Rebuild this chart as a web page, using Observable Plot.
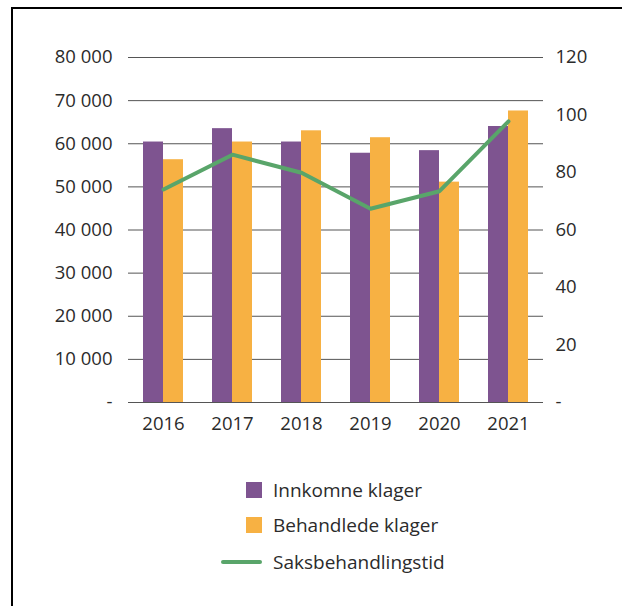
<!DOCTYPE html>
<html>
<head>
<meta charset="utf-8">
<script src="https://cdn.jsdelivr.net/npm/d3@7"></script>
<script src="https://cdn.jsdelivr.net/npm/@observablehq/plot@0.6"></script>
<style>
  html, body { margin: 0; padding: 0; background: #fff; }
  body { width: 622px; height: 606px; position: relative; overflow: hidden; font-family: "Open Sans", sans-serif; }
  #frame { position: absolute; left: 11px; top: 7px; width: 700px; height: 700px; border-top: 2px solid #000; border-left: 2px solid #000; }
  #chart { position: absolute; left: 0; top: 0; }
  .legend { position: absolute; left: 0; top: 0; font-size: 19px; color: #2b2b2b; }
  .item { position: absolute; left: 221px; height: 20px; display: flex; align-items: center; white-space: nowrap; }
  .sw { width: 41px; display: flex; justify-content: flex-end; margin-right: 11px; }
  .sq { width: 16px; height: 16px; }
  .ln { width: 41px; height: 4px; border-radius: 2px; }
</style>
</head>
<body>
<div id="frame"></div>
<div id="chart"></div>
<div class="legend" id="legend"></div>
<script>
const years = ["2016", "2017", "2018", "2019", "2020", "2021"];
const innkomne = [60400, 63500, 60400, 57800, 58400, 64000];
const behandlede = [56300, 60400, 63000, 61400, 51100, 67600];
const saksbehandlingstid = [74.1, 86.2, 79.9, 67.4, 73.5, 97.8];
const leftTicks = [0, 10000, 20000, 30000, 40000, 50000, 60000, 70000, 80000];
const rightTicks = [0, 20, 40, 60, 80, 100, 120];
const seriesNames = ["Innkomne klager", "Behandlede klager", "Saksbehandlingstid"];
const colors = ["#7e5490", "#f7b143", "#59a56a"];

const k = 80000 / 120;
const fmt = d => d === 0 ? "-" : d3.format(",")(d).replace(/,/g, " ");

const barsA = years.map((y, i) => ({year: y, value: innkomne[i]}));
const barsB = years.map((y, i) => ({year: y, value: behandlede[i]}));
const lineData = years.map((y, i) => ({year: y, value: saksbehandlingstid[i] * k}));

const chart = Plot.plot({
  width: 622,
  height: 440,
  marginLeft: 128,
  marginRight: 79,
  marginTop: 57,
  marginBottom: 38,
  style: {fontFamily: "'Open Sans', sans-serif", fontSize: "18.5px", color: "#2b2b2b", background: "transparent"},
  x: {domain: years, paddingInner: 0.42, paddingOuter: 0.21, axis: null},
  y: {domain: [0, 80000], axis: null},
  marks: [
    Plot.ruleY(leftTicks, {stroke: "#555", strokeWidth: 1}),
    Plot.barY(barsA, {x: "year", y: "value", fill: colors[0], insetRight: 20}),
    Plot.barY(barsB, {x: "year", y: "value", fill: colors[1], insetLeft: 20}),
    Plot.line(lineData, {x: "year", y: "value", stroke: colors[2], strokeWidth: 4, strokeLinejoin: "round"}),
    Plot.axisX({tickSize: 0, tickPadding: 14, label: null}),
    Plot.axisY(leftTicks, {anchor: "left", tickSize: 0, tickPadding: 16, tickFormat: fmt, label: null}),
    Plot.axisY(rightTicks.map(v => v * k), {anchor: "right", tickSize: 0, tickPadding: 12, tickFormat: d => fmt(Math.round(d / k)), label: null})
  ]
});
document.getElementById("chart").appendChild(chart);

const legend = document.getElementById("legend");
const tops = [480, 515, 552];
seriesNames.forEach((name, i) => {
  const item = document.createElement("div");
  item.className = "item";
  item.style.top = tops[i] + "px";
  const sw = document.createElement("div");
  sw.className = "sw";
  const mk = document.createElement("div");
  mk.className = i < 2 ? "sq" : "ln";
  mk.style.background = colors[i];
  sw.appendChild(mk);
  const t = document.createElement("span");
  t.textContent = name;
  item.appendChild(sw);
  item.appendChild(t);
  legend.appendChild(item);
});
</script>
</body>
</html>
